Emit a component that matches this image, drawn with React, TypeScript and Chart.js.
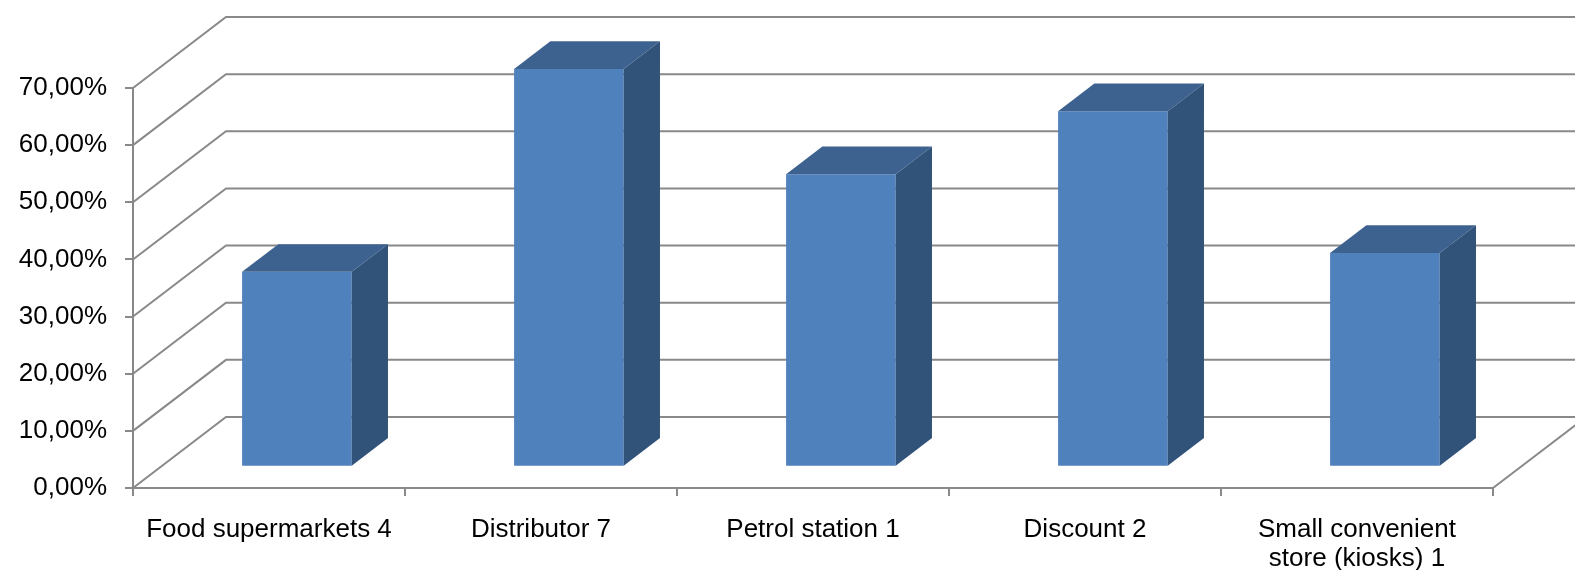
import React, { useEffect, useRef } from 'react';
import { Chart, registerables } from 'chart.js';

Chart.register(...registerables);

const categories: (string | string[])[] = [
  'Food supermarkets 4',
  'Distributor 7',
  'Petrol station 1',
  'Discount 2',
  ['Small convenient', 'store (kiosks) 1'],
];
const values = [34.1, 69.6, 51.2, 62.2, 37.4];
const yTicks = [0, 10, 20, 30, 40, 50, 60, 70];

const GRID = '#898989';
const FRONT = '#4F81BD';
const TOP = '#3D6290';
const SIDE = '#325379';
const WALL_DX = 93;
const WALL_DY = -71;
const BAR_OFF = 0.3;
const BAR_DEPTH = 0.39;
const FONT = { family: '"Liberation Sans", Arial, sans-serif', size: 26 };
const XFONT = { family: '"Liberation Sans", Arial, sans-serif', size: 26, lineHeight: 1.1 };

const threeD = {
  id: 'threeD',
  beforeDatasetsDraw(chart: any) {
    const { ctx, chartArea: a } = chart;
    const y = chart.scales.y;
    ctx.save();
    ctx.strokeStyle = GRID;
    ctx.lineWidth = 2;
    ctx.beginPath();
    for (const t of yTicks) {
      const py = y.getPixelForValue(t);
      ctx.moveTo(a.left, py);
      ctx.lineTo(a.left + WALL_DX, py + WALL_DY);
      ctx.lineTo(a.right + WALL_DX, py + WALL_DY);
    }
    ctx.moveTo(a.right, a.bottom);
    ctx.lineTo(a.right + WALL_DX, a.bottom + WALL_DY);
    ctx.stroke();
    ctx.restore();
    ctx.save();
    ctx.translate(WALL_DX * BAR_OFF, WALL_DY * BAR_OFF);
  },
  afterDatasetsDraw(chart: any) {
    const ctx = chart.ctx;
    const meta = chart.getDatasetMeta(0);
    const ddx = WALL_DX * BAR_DEPTH;
    const ddy = WALL_DY * BAR_DEPTH;
    meta.data.forEach((bar: any) => {
      const { x, y, base, width } = bar.getProps(['x', 'y', 'base', 'width'], true);
      const l = x - width / 2;
      const r = x + width / 2;
      ctx.fillStyle = TOP;
      ctx.beginPath();
      ctx.moveTo(l, y);
      ctx.lineTo(l + ddx, y + ddy);
      ctx.lineTo(r + ddx, y + ddy);
      ctx.lineTo(r, y);
      ctx.closePath();
      ctx.fill();
      ctx.fillStyle = SIDE;
      ctx.beginPath();
      ctx.moveTo(r, y);
      ctx.lineTo(r + ddx, y + ddy);
      ctx.lineTo(r + ddx, base + ddy);
      ctx.lineTo(r, base);
      ctx.closePath();
      ctx.fill();
    });
    ctx.restore();
  },
};

export default function App() {
  const ref = useRef<HTMLCanvasElement>(null);
  useEffect(() => {
    if (!ref.current) return;
    const chart = new Chart(ref.current, {
      type: 'bar',
      data: {
        labels: categories as any,
        datasets: [
          {
            data: values,
            backgroundColor: FRONT,
            borderWidth: 0,
            categoryPercentage: 1,
            barPercentage: 0.403,
            clip: false as any,
          },
        ],
      },
      options: {
        responsive: false,
        animation: false,
        devicePixelRatio: 1,
        layout: { padding: { top: 88, right: 82, left: 0, bottom: 0 } },
        plugins: { legend: { display: false }, tooltip: { enabled: false } },
        scales: {
          x: {
            grid: {
              display: true,
              drawOnChartArea: false,
              drawTicks: true,
              tickLength: 8,
              color: GRID,
              lineWidth: 2,
              offset: true,
            },
            border: { display: true, color: GRID, width: 2 },
            ticks: { padding: 20, maxRotation: 0, autoSkip: false, color: '#000', font: XFONT },
            afterFit: (s: any) => {
              s.height = 82;
            },
          },
          y: {
            min: 0,
            max: 70,
            grid: {
              display: true,
              drawOnChartArea: false,
              drawTicks: true,
              tickLength: 8,
              color: GRID,
              lineWidth: 2,
            },
            border: { display: true, color: GRID, width: 2 },
            ticks: {
              stepSize: 10,
              padding: 18,
              color: '#000',
              font: FONT,
              callback: (v: any) => Number(v).toFixed(2).replace('.', ',') + '%',
            },
            afterFit: (s: any) => {
              s.width = 133;
            },
          },
        },
      },
      plugins: [threeD],
    });
    return () => chart.destroy();
  }, []);
  return (
    <canvas
      ref={ref}
      width={1575}
      height={570}
      style={{ position: 'absolute', left: 0, top: 0, width: 1575, height: 570 }}
    />
  );
}
